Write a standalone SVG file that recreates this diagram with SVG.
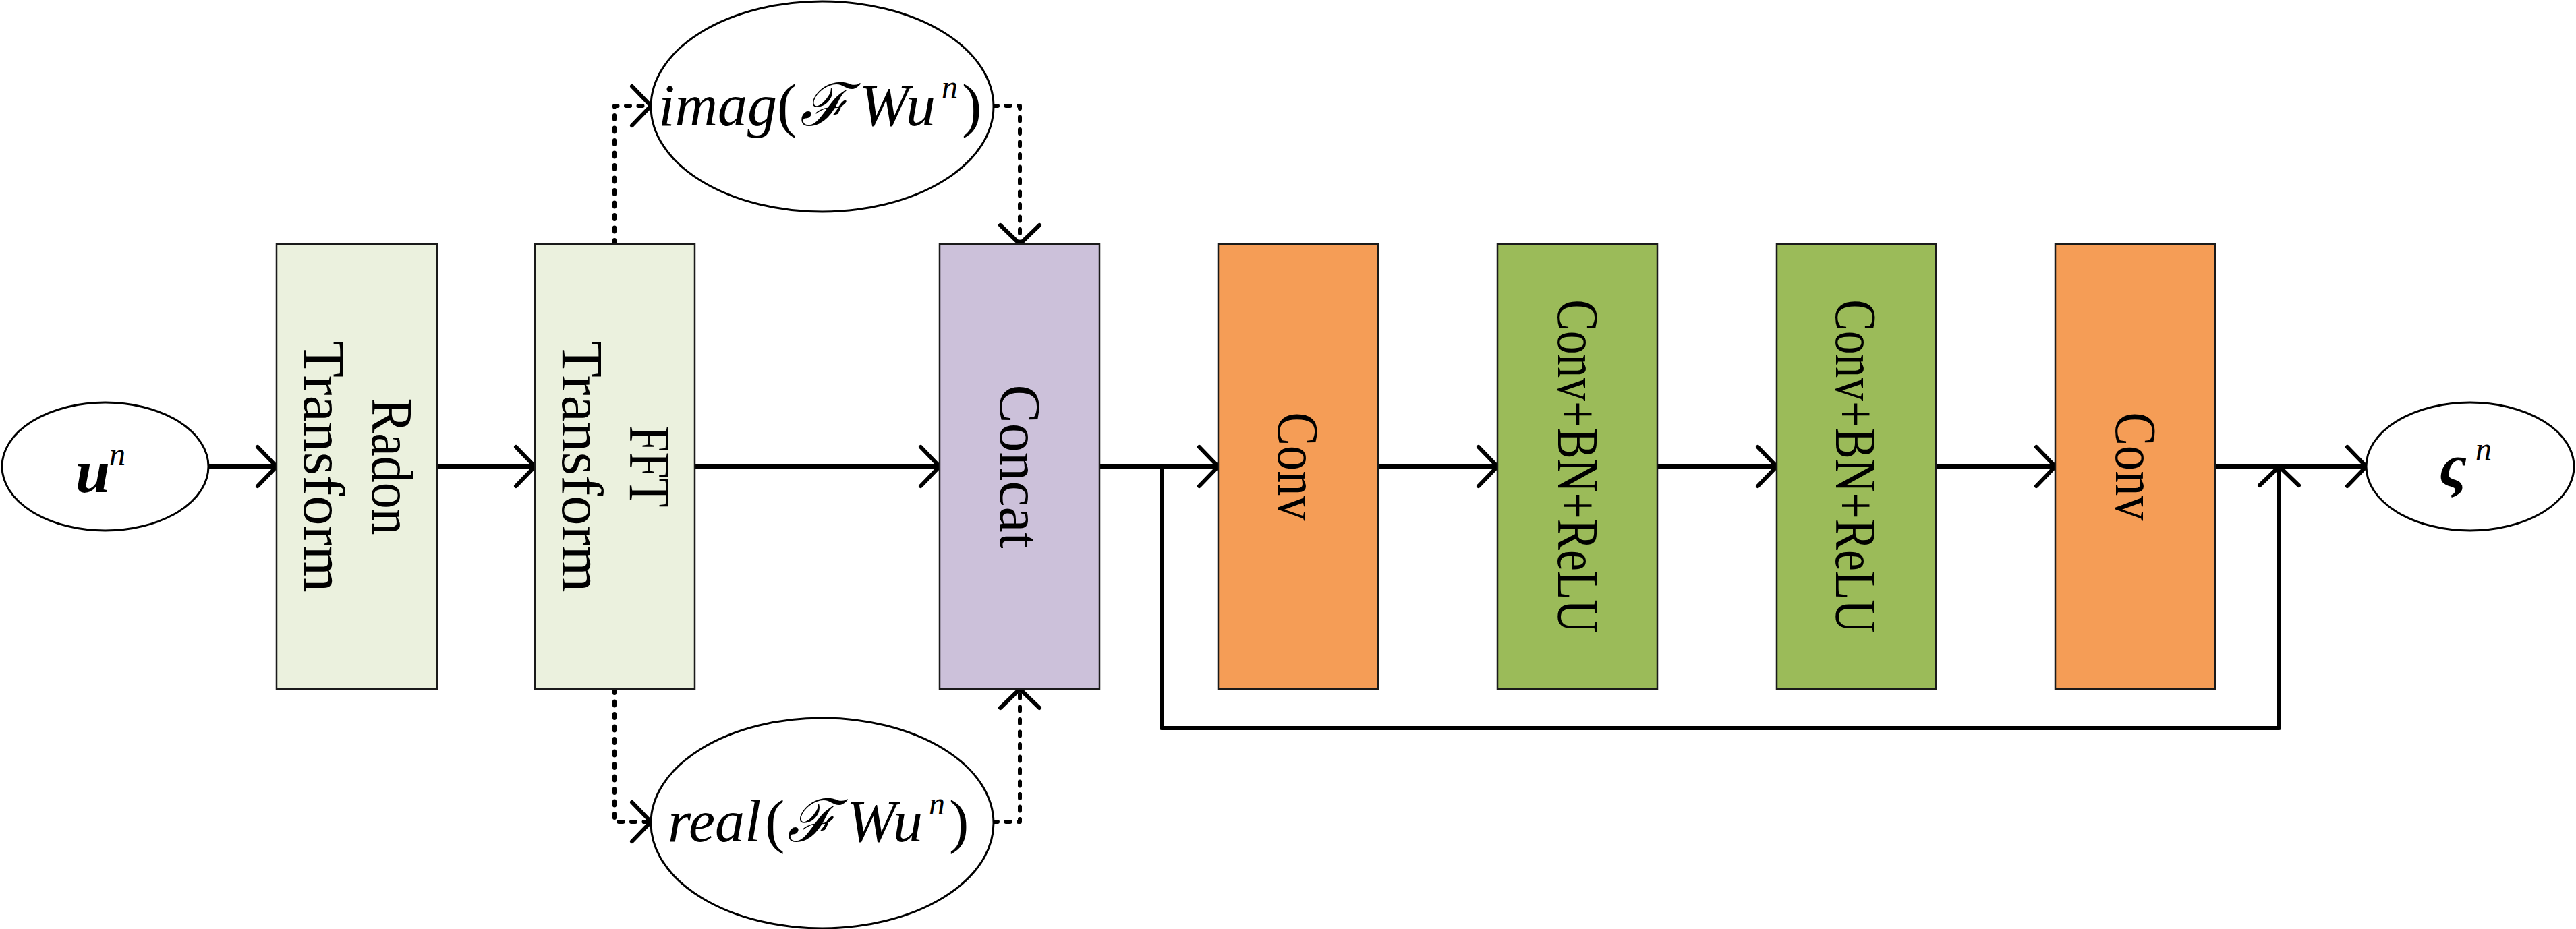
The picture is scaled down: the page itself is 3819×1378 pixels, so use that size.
<svg xmlns="http://www.w3.org/2000/svg" width="3819" height="1378" viewBox="0 0 3819 1378">
<style>
.box{stroke:#1a1a1a;stroke-width:2.5}
.lg{fill:#EBF1DE}
.pu{fill:#CCC1DA}
.or{fill:#F59D56}
.gr{fill:#9BBB59}
.ell{fill:#fff;stroke:#000;stroke-width:3}
.lbl{font-family:"Liberation Serif","DejaVu Serif",serif;font-size:86px;fill:#000;text-anchor:middle}
.math{font-family:"Liberation Serif","DejaVu Serif",serif;font-style:italic;fill:#000}
.up{font-style:normal}
.ln{fill:none;stroke:#000;stroke-width:6;stroke-linecap:round;stroke-linejoin:round}
.dash{stroke-dasharray:6 12.5}
</style>
<defs>
<marker id="ah" markerUnits="userSpaceOnUse" markerWidth="80" markerHeight="80" viewBox="-40 -40 80 80" refX="0" refY="0" orient="auto" overflow="visible">
<path d="M-28,-29 L0,0 L-28,29" fill="none" stroke="#000" stroke-width="6" stroke-linecap="round" stroke-linejoin="round"/>
</marker>
</defs>

<g id="connectors">
<path class="ln" d="M310,692 H410" marker-end="url(#ah)"/>
<path class="ln" d="M648,692 H793" marker-end="url(#ah)"/>
<path class="ln" d="M1030,692 H1393" marker-end="url(#ah)"/>
<path class="ln" d="M1630,692 H1806" marker-end="url(#ah)"/>
<path class="ln" d="M2043,692 H2220" marker-end="url(#ah)"/>
<path class="ln" d="M2457,692 H2634" marker-end="url(#ah)"/>
<path class="ln" d="M2870,692 H3047" marker-end="url(#ah)"/>
<path class="ln" d="M3284,692 H3508" marker-end="url(#ah)"/>
<path class="ln" d="M1722,692 V1080 H3379 V692" marker-end="url(#ah)"/>
<path class="ln dash" d="M911,362 V157 H965" marker-end="url(#ah)"/>
<path class="ln dash" d="M1473,157 H1512 V362" marker-end="url(#ah)"/>
<path class="ln dash" d="M911,1022 V1219 H965" marker-end="url(#ah)"/>
<path class="ln dash" d="M1473,1219 H1512 V1022" marker-end="url(#ah)"/>
</g>

<g id="input">
<ellipse class="ell" cx="156" cy="692" rx="153" ry="95"/>
<text class="math"><tspan x="112" y="730" font-size="92" font-weight="bold">u</tspan><tspan x="162" y="690" font-size="48">n</tspan></text>
</g>

<g id="radon">
<rect class="box lg" x="410" y="362" width="238" height="660"/>
<g transform="translate(529,692) rotate(90)">
<text class="lbl" x="0" y="-23" textLength="203" lengthAdjust="spacingAndGlyphs">Radon</text>
<text class="lbl" x="0" y="78" textLength="373" lengthAdjust="spacingAndGlyphs">Transform</text>
</g>
</g>

<g id="fft">
<rect class="box lg" x="793" y="362" width="237" height="660"/>
<g transform="translate(911.5,692) rotate(90)">
<text class="lbl" x="0" y="-22" textLength="121" lengthAdjust="spacingAndGlyphs">FFT</text>
<text class="lbl" x="0" y="78" textLength="373" lengthAdjust="spacingAndGlyphs">Transform</text>
</g>
</g>

<g id="imag">
<ellipse class="ell" cx="1219" cy="158" rx="254" ry="156"/>
<text class="math" font-size="88">
<tspan x="976" y="186">imag</tspan><tspan class="up" x="1152" y="186">(</tspan><tspan x="1186" y="186">ℱ</tspan><tspan x="1274" y="186">W</tspan><tspan x="1343" y="186">u</tspan><tspan x="1396" y="145" font-size="48">n</tspan><tspan class="up" x="1426" y="186">)</tspan>
</text>
</g>

<g id="real">
<ellipse class="ell" cx="1219" cy="1221" rx="254" ry="156"/>
<text class="math" font-size="88">
<tspan x="990" y="1248">real</tspan><tspan class="up" x="1134" y="1248">(</tspan><tspan x="1167" y="1248">ℱ</tspan><tspan x="1255" y="1248">W</tspan><tspan x="1324" y="1248">u</tspan><tspan x="1377" y="1208" font-size="48">n</tspan><tspan class="up" x="1407" y="1248">)</tspan>
</text>
</g>

<g id="concat">
<rect class="box pu" x="1393" y="362" width="237" height="660"/>
<g transform="translate(1512,692) rotate(90)">
<text class="lbl" x="0" y="29" textLength="243" lengthAdjust="spacingAndGlyphs">Concat</text>
</g>
</g>

<g id="conv1">
<rect class="box or" x="1806" y="362" width="237" height="660"/>
<g transform="translate(1925,692) rotate(90)">
<text class="lbl" x="0" y="30" textLength="161" lengthAdjust="spacingAndGlyphs">Conv</text>
</g>
</g>

<g id="cbr1">
<rect class="box gr" x="2220" y="362" width="237" height="660"/>
<g transform="translate(2338.5,692) rotate(90)">
<text class="lbl" x="0" y="29" textLength="495" lengthAdjust="spacingAndGlyphs">Conv+BN+ReLU</text>
</g>
</g>

<g id="cbr2">
<rect class="box gr" x="2634" y="362" width="236" height="660"/>
<g transform="translate(2752,692) rotate(90)">
<text class="lbl" x="0" y="30" textLength="495" lengthAdjust="spacingAndGlyphs">Conv+BN+ReLU</text>
</g>
</g>

<g id="conv2">
<rect class="box or" x="3047" y="362" width="237" height="660"/>
<g transform="translate(3165.5,692) rotate(90)">
<text class="lbl" x="0" y="29" textLength="161" lengthAdjust="spacingAndGlyphs">Conv</text>
</g>
</g>

<g id="output">
<ellipse class="ell" cx="3662" cy="692" rx="154" ry="95"/>
<text class="math"><tspan x="3616" y="722" font-size="92" font-weight="bold">ς</tspan><tspan x="3670" y="682" font-size="48">n</tspan></text>
</g>
</svg>
